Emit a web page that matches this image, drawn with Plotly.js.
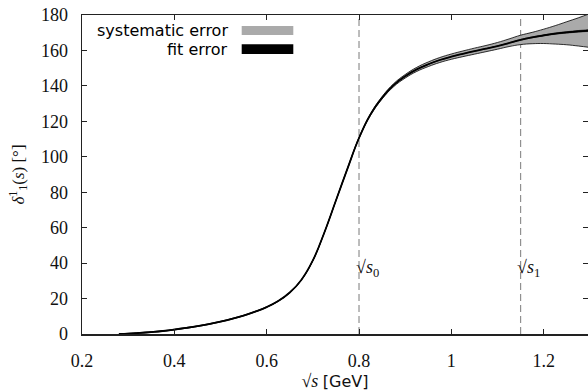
<!DOCTYPE html>
<html>
<head>
<meta charset="utf-8">
<script src="https://cdn.plot.ly/plotly-3.0.1.min.js"></script>
<style>html,body{margin:0;padding:0;background:#fff;}#chart{width:588px;height:391px;}</style>
</head>
<body>
<div id="chart"></div>
<script>
// sqrt(s) in GeV
var sqrtS = [0.28,0.30,0.325,0.35,0.375,0.40,0.425,0.45,0.475,0.50,0.525,0.55,0.575,0.60,0.625,0.65,0.675,0.70,0.725,0.75,0.775,0.80,0.825,0.85,0.875,0.90,0.925,0.95,0.975,1.00,1.025,1.05,1.075,1.10,1.125,1.15,1.175,1.20,1.225,1.25,1.275,1.30];
// central phase shift delta_1^1 (degrees)
var delta = [0,0.2,0.6,1.1,1.7,2.5,3.4,4.4,5.6,7.0,8.6,10.4,12.6,15.2,18.6,23.4,30.5,41.5,57.3,75.3,93.3,110.6,123.9,133.3,140.4,145.4,149.3,152.2,154.6,156.5,158.1,159.6,161.0,162.5,164.2,166.0,167.4,168.5,169.5,170.2,170.8,171.3];
// systematic error band
var sysHi = [0,0.4,0.8,1.3,1.9,2.7,3.6,4.6,5.8,7.2,8.8,10.6,12.8,15.4,18.8,23.6,30.7,41.7,57.5,75.5,93.6,111.0,124.45,134.0,141.25,146.4,150.45,153.5,156.0,158.0,159.7,161.3,162.8,164.5,166.5,168.6,170.2,172.0,174.0,176.2,178.4,180.8];
var sysLo = [0,0,0.4,0.9,1.5,2.3,3.2,4.2,5.4,6.8,8.4,10.2,12.4,15.0,18.4,23.2,30.3,41.3,57.1,75.1,93.0,110.2,123.35,132.6,139.55,144.4,148.15,150.9,153.2,155.0,156.5,157.9,159.3,160.7,162.2,163.3,163.8,163.9,163.6,163.2,162.5,161.7];
// fit error band
var fitHi = [0,0.3,0.7,1.2,1.8,2.6,3.5,4.5,5.7,7.1,8.7,10.5,12.7,15.3,18.7,23.5,30.6,41.6,57.4,75.4,93.4,110.7,124.0,133.4,140.5,145.5,149.4,152.3,154.7,156.6,158.2,159.7,161.1,162.6,164.35,166.2,167.65,168.8,169.85,170.6,171.25,171.8];
var fitLo = [0,0.1,0.5,1.0,1.6,2.4,3.3,4.3,5.5,6.9,8.5,10.3,12.5,15.1,18.5,23.3,30.4,41.4,57.2,75.2,93.2,110.5,123.8,133.2,140.3,145.3,149.2,152.1,154.5,156.4,158.0,159.5,160.9,162.4,164.05,165.8,167.15,168.2,169.15,169.8,170.35,170.8];
// reference energies
var refNames = ["0","1"];
var refX = [0.8,1.15];
var legendLabels = ["systematic error","fit error"];
var xTickVals = [0.2,0.4,0.6,0.8,1.0,1.2];
var xTickText = ["0.2","0.4","0.6","0.8","1","1.2"];
var yTickVals = [0,20,40,60,80,100,120,140,160,180];

var gray = "#aaaaaa";
var serif = "Liberation Serif";
var traces = [];
// dashed reference lines
refX.forEach(function (xv) {
  traces.push({x: [xv, xv], y: [0, 180], mode: "lines", line: {color: "#909090", width: 1.2, dash: "7px,4px"}, hoverinfo: "skip", showlegend: false});
});
// systematic band
traces.push({x: sqrtS, y: sysLo, mode: "lines", line: {color: "#000", width: 0.8, shape: "spline", smoothing: 1.2}, hoverinfo: "skip", showlegend: false});
traces.push({x: sqrtS, y: sysHi, mode: "lines", fill: "tonexty", fillcolor: gray, line: {color: "#000", width: 0.8, shape: "spline", smoothing: 1.2}, hoverinfo: "skip", showlegend: false});
// fit band
traces.push({x: sqrtS, y: fitLo, mode: "lines", line: {color: "#000", width: 0.5, shape: "spline", smoothing: 1.2}, hoverinfo: "skip", showlegend: false});
traces.push({x: sqrtS, y: fitHi, mode: "lines", fill: "tonexty", fillcolor: "#000", line: {color: "#000", width: 0.5, shape: "spline", smoothing: 1.2}, hoverinfo: "skip", showlegend: false});
traces.push({x: sqrtS, y: delta, mode: "lines", line: {color: "#000", width: 1.8, shape: "spline", smoothing: 1.2}, hoverinfo: "skip", showlegend: false});

var annotations = [];
refX.forEach(function (xv, i) {
  annotations.push({x: xv, y: 37, xref: "x", yref: "y", xanchor: "center", yanchor: "middle", xshift: 8,
    text: "√<i>s</i><sub>" + refNames[i] + "</sub>", showarrow: false,
    font: {family: serif, size: 18, color: "#111"}});
});
annotations.push({x: 0.2925, y: 0.951, xref: "paper", yref: "paper", xanchor: "right", yanchor: "middle", text: legendLabels[0], showarrow: false, font: {family: "DejaVu Sans", size: 16, color: "#000"}});
annotations.push({x: 0.2925, y: 0.8925, xref: "paper", yref: "paper", xanchor: "right", yanchor: "middle", text: legendLabels[1], showarrow: false, font: {family: "DejaVu Sans", size: 16, color: "#000"}});

var shapes = [
  {type: "rect", xref: "paper", yref: "paper", x0: 0.3156, x1: 0.4176, y0: 0.937, y1: 0.9655, fillcolor: gray, line: {width: 0}},
  {type: "rect", xref: "paper", yref: "paper", x0: 0.3156, x1: 0.4176, y0: 0.8777, y1: 0.908, fillcolor: "#000", line: {width: 0}}
];

var layout = {
  width: 588, height: 391,
  margin: {l: 82, r: 0, t: 15, b: 57, pad: 0},
  paper_bgcolor: "#fff", plot_bgcolor: "#fff",
  showlegend: false,
  xaxis: {
    range: [0.2, 1.296], tickvals: xTickVals, ticktext: xTickText,
    ticks: "inside", ticklen: 5, tickcolor: "#222", tickwidth: 1,
    showline: true, linecolor: "#222", linewidth: 1.5, mirror: "ticks",
    showgrid: false, zeroline: false, ticklabelstandoff: 10,
    tickfont: {family: serif, size: 18, color: "#111"},
    title: {text: "√<i>s</i> <span style=\"font-family:'DejaVu Sans';font-size:16px\">[GeV]</span>", font: {family: serif, size: 18, color: "#111"}, standoff: 1}
  },
  yaxis: {
    range: [0, 180], tickvals: yTickVals,
    ticks: "inside", ticklen: 5, tickcolor: "#222", tickwidth: 1,
    showline: true, linecolor: "#222", linewidth: 1.5, mirror: "ticks",
    showgrid: false, zeroline: false, ticklabelstandoff: 9,
    tickfont: {family: serif, size: 18, color: "#111"},
    title: {text: "<i>δ</i><sup>1</sup><sub>1</sub>(<i>s</i>) [°]", font: {family: serif, size: 17, color: "#111"}, standoff: 12}
  },
  annotations: annotations,
  shapes: shapes
};

Plotly.newPlot("chart", traces, layout, {staticPlot: true, displayModeBar: false});
</script>
</body>
</html>
